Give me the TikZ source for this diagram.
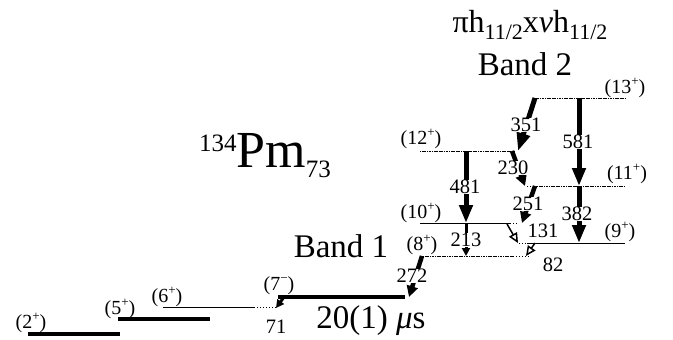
\documentclass[tikz,border=0pt]{standalone}
\usepackage{fontspec}
\setmainfont{Liberation Serif}
\usetikzlibrary{arrows.meta}
\newcommand{\jsup}[1]{\raisebox{0.42em}{\fontsize{13}{13}\selectfont #1}}
\begin{document}
\begin{tikzpicture}[x=1pt,y=-1pt,
  isolevel/.style={line width=3.6pt},
  level/.style={line width=0.9pt},
  bandlevel/.style={line width=0.9pt,dash pattern=on 1.2pt off 0.5pt},
  ext/.style={line width=0.9pt,dash pattern=on 1pt off 2pt},
  gam/.style={line width=5pt,-{Triangle[length=18pt,width=13pt]}},
  gammid/.style={line width=4.5pt,-{Triangle[length=11pt,width=11pt]}},
  gamsmall/.style={line width=3pt,-{Triangle[length=8pt,width=8pt]}},
  gamopen/.style={line width=1.5pt,-{Triangle[open,length=10pt,width=9pt]}},
  spin/.style={font=\fontsize{20}{20}\selectfont,inner sep=0pt},
  egam/.style={font=\fontsize{20.5}{20.5}\selectfont,inner sep=0.5pt,fill=white},
  big/.style={font=\fontsize{33}{33}\selectfont,inner sep=0pt}]
\useasboundingbox (0,0) rectangle (673,340);
% levels
\draw[isolevel] (28,334) -- (120,334);
\draw[isolevel] (118,319) -- (210,319);
\draw[level] (163,307) -- (254,307);
\draw[ext] (254,307) -- (276,307);
\draw[isolevel] (278,297) -- (405,297);
\draw[bandlevel] (423,256) -- (513,256);
\draw[ext] (513,256) -- (530,256);
\draw[level] (420,223) -- (510,223);
\draw[ext] (510,223) -- (519,223);
\draw[bandlevel] (420,151) -- (515,151);
\draw[bandlevel] (533,98) -- (625,98);
\draw[ext] (527,186) -- (537,186);
\draw[bandlevel] (537,186) -- (625,186);
\draw[ext] (519,243) -- (527,243);
\draw[level] (527,243) -- (625,243);
% end points of the transitions
\coordinate (t71a) at (284,297);  \coordinate (t71b) at (276,308);
\coordinate (t272a) at (422,256); \coordinate (t272b) at (409,297);
\coordinate (t213a) at (466,223); \coordinate (t213b) at (466,256);
\coordinate (t481a) at (466,151); \coordinate (t481b) at (466,223);
\coordinate (t351a) at (535,98);  \coordinate (t351b) at (518,151);
\coordinate (t230a) at (512,151); \coordinate (t230b) at (525,186);
\coordinate (t251a) at (535,186); \coordinate (t251b) at (522,223);
\coordinate (t581a) at (579,98);  \coordinate (t581b) at (579,186);
\coordinate (t382a) at (579,186); \coordinate (t382b) at (579,243);
\coordinate (t131a) at (507,224); \coordinate (t131b) at (518,243);
\coordinate (t82a) at (535,243);  \coordinate (t82b) at (526,256);
\draw[gamsmall] (t71a) -- (t71b);
\draw[gammid] (t272a) -- (t272b);
\draw[gamsmall] (t213a) -- (t213b);
\draw[gam] (t481a) -- (t481b);
\draw[gam] (t351a) -- (t351b);
\draw[gammid] (t230a) -- (t230b);
\draw[gammid] (t251a) -- (t251b);
\draw[gam] (t581a) -- (t581b);
\draw[gam] (t382a) -- (t382b);
\draw[gamopen] (t131a) -- (t131b);
\draw[gamopen] (t82a) -- (t82b);
% energies
\node[egam] (e272) at (412,276) {272};
\node[egam] (e213) at (466,240) {213};
\node[egam] (e481) at (465,187) {481};
\node[egam] (e351) at (526,125) {351};
\node[egam] (e230) at (513,168) {230};
\node[egam] (e251) at (528,204) {251};
\node[egam] (e581) at (578,142) {581};
\node[egam] (e382) at (577,214) {382};
\node[egam,fill=none] (e131) at (543,231) {131};
\node[egam,fill=none] (e82) at (553,265) {82};
\node[egam,fill=none] (e71) at (276,327) {71};
% spins
\node[spin] (j2) at (31,323) {(2\jsup{+})};
\node[spin] (j5) at (120,309) {(5\jsup{+})};
\node[spin] (j6) at (167,297) {(6\jsup{+})};
\node[spin] (j7) at (279,286) {(7\jsup{−})};
\node[spin] (j8) at (422,245) {(8\jsup{+})};
\node[spin] (j10) at (421,213) {(10\jsup{+})};
\node[spin] (j12) at (421,139) {(12\jsup{+})};
\node[spin] (j13) at (625,88) {(13\jsup{+})};
\node[spin] (j11) at (627,174) {(11\jsup{+})};
\node[spin] (j9) at (620,232) {(9\jsup{+})};
% labels
\node[big] (iso) at (371,321) {20(1) \textit{μ}s};
\node[big] (band1) at (341,246) {Band 1};
\node[big] (band2) at (525,64) {Band 2};
\node[big,font=\fontsize{32}{32}\selectfont] (conf) at (530,25) {πh\raisebox{-7pt}{\fontsize{22}{22}\selectfont 11/2}x\textit{ν}h\raisebox{-7pt}{\fontsize{22}{22}\selectfont 11/2}};
\node[inner sep=0pt] (nucl) at (265,156) {\raisebox{16pt}{\fontsize{25}{25}\selectfont 134}\fontsize{52}{52}\selectfont Pm\raisebox{-10pt}{\fontsize{25}{25}\selectfont 73}};
\end{tikzpicture}
\end{document}
